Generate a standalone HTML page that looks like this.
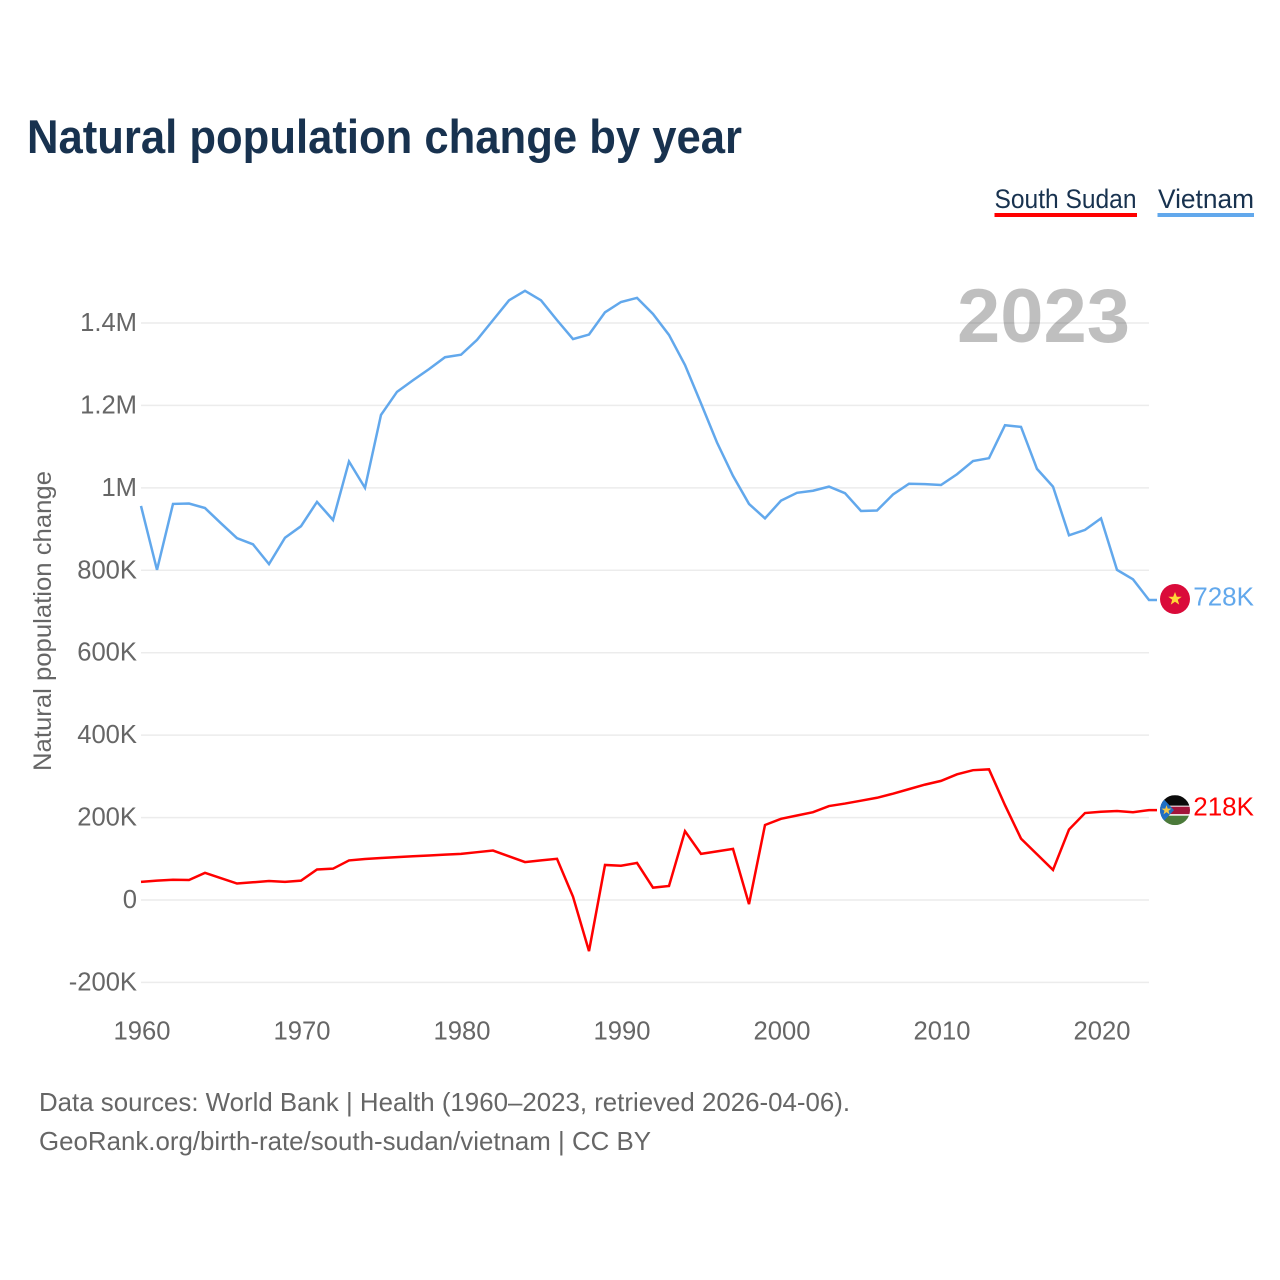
<!DOCTYPE html>
<html lang="en">
<head>
<meta charset="utf-8">
<title>Natural population change by year</title>
<style>
html,body{margin:0;padding:0;background:#fff;width:1280px;height:1280px;overflow:hidden}
svg{display:block;font-family:"Liberation Sans",Arial,sans-serif}
</style>
</head>
<body>
<svg id="chart" xmlns="http://www.w3.org/2000/svg" width="1280" height="1280" viewBox="0 0 1280 1280">
  <defs>
    <clipPath id="flag-clip"><circle cx="0" cy="0" r="15"/></clipPath>
  </defs>
  <rect width="1280" height="1280" fill="#fff"/>
  <text x="27" y="153" font-size="47" font-weight="700" fill="#18324f" textLength="715" lengthAdjust="spacingAndGlyphs">Natural population change by year</text>
  <g>
    <text x="994.5" y="208" font-size="27" fill="#18324f" textLength="142" lengthAdjust="spacingAndGlyphs">South Sudan</text>
    <rect x="994.5" y="213" width="142.5" height="4" fill="#ff0000"/>
  </g>
  <g>
    <text x="1158" y="208" font-size="27" fill="#18324f" textLength="96" lengthAdjust="spacingAndGlyphs">Vietnam</text>
    <rect x="1157.5" y="213" width="96.5" height="4" fill="#62a8ec"/>
  </g>
  <g id="grid"></g>
  <g id="y-ticks"></g>
  <g id="x-ticks"></g>
  <text x="957" y="342" font-size="76" font-weight="700" fill="#000" fill-opacity="0.25" textLength="173" lengthAdjust="spacingAndGlyphs">2023</text>
  <text transform="translate(51,621) rotate(-90)" text-anchor="middle" font-size="25" fill="#666" textLength="300" lengthAdjust="spacingAndGlyphs">Natural population change</text>
  <g id="series"></g>
  <g id="end-labels"></g>
  <text x="39" y="1111" font-size="26" fill="#666" textLength="811" lengthAdjust="spacingAndGlyphs">Data sources: World Bank | Health (1960–2023, retrieved 2026-04-06).</text>
  <text x="39" y="1150" font-size="26" fill="#666" textLength="612" lengthAdjust="spacingAndGlyphs">GeoRank.org/birth-rate/south-sudan/vietnam | CC BY</text>
</svg>
<script>
const startYear = 1960;
const endYear = 2023;
const southSudanValues = [44,47,49,48.5,66,53,40,43,46,44,47,74,76,96,99.5,102,104,106,108,110,112,116,120,106,92,96,100,8,-124,85,83,90,30,34,167,112,118,124,-10,182,197,205,213,228,234,241,248,258,269,280,289,305,315,317,230,149,111,73,171,211,214,216,213,218];
const vietnamValues = [956,801,961,962,951,914,878,863,815,879,907,966,922,1064,1000,1177,1233,1261,1288,1317,1323,1359,1407,1455,1478,1455,1407,1361,1372,1426,1451,1461,1422,1371,1298,1205,1110,1029,961,926,969,988,993,1003,987,944,945,984,1010,1009,1007,1033,1065,1072,1152,1148,1046,1003,885,898,926,801,778,728];
const yTickValues = [-200,0,200,400,600,800,1000,1200,1400];
const yTickLabels = ["-200K","0","200K","400K","600K","800K","1M","1.2M","1.4M"];
const xTickYears = [1960,1970,1980,1990,2000,2010,2020];
const xTickLabels = ["1960","1970","1980","1990","2000","2010","2020"];
const SVG_NS = "http://www.w3.org/2000/svg";

function xScale(year){ return 141 + (year - 1960) * 16; }
function yScale(v){ return 900 - v * 0.41214; }
function fmtK(v){ return Math.round(v) + "K"; }
function make(tag, parent, attrs){
  const n = document.createElementNS(SVG_NS, tag);
  for (const k in attrs) n.setAttribute(k, attrs[k]);
  parent.appendChild(n);
  return n;
}

const grid = document.getElementById("grid");
const yTicks = document.getElementById("y-ticks");
const xTicks = document.getElementById("x-ticks");
const series = document.getElementById("series");
const endLabels = document.getElementById("end-labels");

yTickValues.forEach(function(v, i){
  const line = make("line", grid, {x1:xScale(startYear), x2:xScale(endYear), y1:yScale(v), y2:yScale(v), stroke:"#ececec", "stroke-width":1.5});
  
  
  const t = make("text", yTicks, {x:137, y:yScale(v) + 8, "text-anchor":"end", "font-size":25.6, fill:"#666"});
  t.textContent = yTickLabels[i];
  
  
});

xTickYears.forEach(function(y, i){
  const t = make("text", xTicks, {x:xScale(y) + 1, y:1039.5, "text-anchor":"middle", "font-size":25.6, fill:"#666"});
  t.textContent = xTickLabels[i];
  
  
});

function linePoints(values){
  const pts = values.map(function(v, i){ return xScale(startYear + i) + "," + yScale(v).toFixed(2); });
  pts.push((xScale(endYear) + 8) + "," + yScale(values[values.length - 1]).toFixed(2));
  return pts.join(" ");
}

const southLine = make("polyline", series, {points:linePoints(southSudanValues), fill:"none", stroke:"#ff0000", "stroke-width":2.5, "stroke-linejoin":"miter"});



const vietnamLine = make("polyline", series, {points:linePoints(vietnamValues), fill:"none", stroke:"#62a8ec", "stroke-width":2.5, "stroke-linejoin":"miter"});



const FLAG_X = xScale(endYear) + 26;
const star = "0,-7 1.8,-2.2 6.7,-2.2 2.8,0.8 4.2,5.7 0,2.8 -4.2,5.7 -2.8,0.8 -6.7,-2.2 -1.8,-2.2";

/* Vietnam flag and value */
const vnY = yScale(vietnamValues[vietnamValues.length - 1]);
const vnFlag = make("g", endLabels, {transform:"translate(" + FLAG_X + "," + (vnY - 1).toFixed(2) + ")"});


make("circle", vnFlag, {r:15, fill:"#da0b3a"});
make("polygon", vnFlag, {points:star, fill:"#ffd838"});
const vnLabel = make("text", endLabels, {x:1254, y:vnY + 5.5, "text-anchor":"end", "font-size":26, fill:"#62a8ec"});
vnLabel.textContent = fmtK(vietnamValues[vietnamValues.length - 1]);



/* South Sudan flag and value */
const ssY = yScale(southSudanValues[southSudanValues.length - 1]);
const ssFlag = make("g", endLabels, {transform:"translate(" + FLAG_X + "," + ssY.toFixed(2) + ")", "clip-path":"url(#flag-clip)"});


make("rect", ssFlag, {x:-15, y:-15, width:30, height:30, fill:"#fff"});
make("rect", ssFlag, {x:-15, y:-15, width:30, height:10.5, fill:"#0b0b0b"});
make("rect", ssFlag, {x:-15, y:-3.5, width:30, height:7.5, fill:"#a3143a"});
make("rect", ssFlag, {x:-15, y:5.5, width:30, height:9.5, fill:"#4b7a3a"});
make("polygon", ssFlag, {points:"-15,-15 -15,15 -1,0", fill:"#1f6fc4"});
make("polygon", ssFlag, {points:"0,-5 1.2,-1.5 5,-1.5 2,0.6 3,4.2 0,2 -3,4.2 -2,0.6 -5,-1.5 -1.2,-1.5", transform:"translate(-8.5,0)", fill:"#f7c843"});
const ssLabel = make("text", endLabels, {x:1254, y:ssY + 5.5, "text-anchor":"end", "font-size":26, fill:"#ff0000"});
ssLabel.textContent = fmtK(southSudanValues[southSudanValues.length - 1]);


</script>
</body>
</html>
